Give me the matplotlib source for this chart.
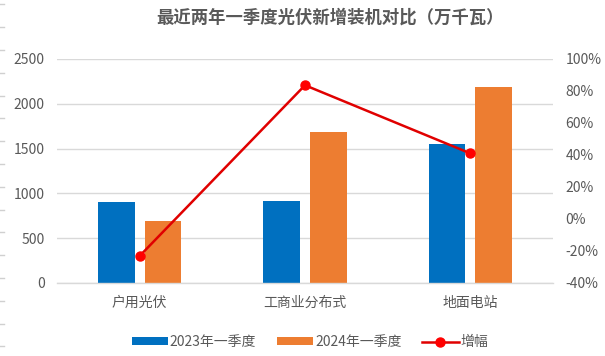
import matplotlib
matplotlib.use("Agg")
import matplotlib.pyplot as plt
import numpy as np
from matplotlib.lines import Line2D
from matplotlib.patches import Patch

plt.rcParams['font.family'] = ['Noto Sans CJK SC', 'DejaVu Sans']

categories = ["户用光伏", "工商业分布式", "地面电站"]
q1_2023 = [904, 918, 1551]
q1_2024 = [695, 1685, 2187]
growth = [-23.1, 83.6, 41.0]
left_ticks = [0, 500, 1000, 1500, 2000, 2500]
right_ticks = [-40, -20, 0, 20, 40, 60, 80, 100]

title = "最近两年一季度光伏新增装机对比（万千瓦）"
series_names = ["2023年一季度", "2024年一季度", "增幅"]

blue = "#0070C0"
orange = "#ED7D31"
red = "#E00000"
txt = "#595959"
grid = "#D9D9D9"

fig = plt.figure(figsize=(6.05, 3.56), dpi=100)
ax = fig.add_axes([57/605, 1-283/356, 496/605, 224/356])
x = np.arange(len(categories))
w = 0.223
off = 0.1415
ax.bar(x - off, q1_2023, width=w, color=blue, zorder=2)
ax.bar(x + off, q1_2024, width=w, color=orange, zorder=2)
ax.set_xlim(-0.5, 2.5)
ax.set_ylim(0, 2500)
ax.set_yticks(left_ticks)
ax.set_yticklabels([str(v) for v in left_ticks])
ax.grid(axis='y', color=grid, linewidth=1, zorder=0)
ax.set_axisbelow(True)
for s in ['top', 'right', 'left']:
    ax.spines[s].set_visible(False)
ax.spines['bottom'].set_color(grid)
ax.spines['bottom'].set_linewidth(1)
ax.set_xticks(x)
ax.set_xticklabels(categories)
ax.tick_params(axis='x', length=0, pad=9, labelsize=10, labelcolor=txt)
ax.tick_params(axis='y', length=0, pad=9, labelsize=10, labelcolor=txt)

ax2 = ax.twinx()
ax2.plot(x, growth, color=red, linewidth=1.8, marker='o', markersize=6.5,
         markerfacecolor='#FF0000', markeredgecolor='#FF0000', zorder=3)
ax2.set_ylim(-40, 100)
ax2.set_yticks(right_ticks)
ax2.set_yticklabels([f"{v}%" for v in right_ticks])
ax2.tick_params(axis='y', length=0, pad=9, labelsize=10, labelcolor=txt)
for s in ['top', 'right', 'left', 'bottom']:
    ax2.spines[s].set_visible(False)

fig.text(330/605, 1-18/356, title, ha='center', va='center', fontsize=12.5,
         fontweight='bold', color=txt)

handles = [Patch(facecolor=blue, edgecolor='none'),
           Patch(facecolor=orange, edgecolor='none'),
           Line2D([0], [0], color=red, linewidth=1.8, marker='o', markersize=6.5,
                  markerfacecolor='#FF0000', markeredgecolor='#FF0000')]
leg = fig.legend(handles, series_names, loc='center', bbox_to_anchor=(310/605, 1-342/356),
                 ncol=3, frameon=False, fontsize=10, handlelength=2.6, handleheight=0.45,
                 columnspacing=1.5, handletextpad=0.15)
for t in leg.get_texts():
    t.set_color(txt)

# faint marks at the left edge
for k in range(16):
    yy = 4.4 + 22.8 * k
    if yy > 350:
        break
    fig.add_artist(Line2D([0, 4/605], [1-yy/356, 1-yy/356], color="#D0D0D0", linewidth=1))

fig.savefig("out.png", dpi=100)
